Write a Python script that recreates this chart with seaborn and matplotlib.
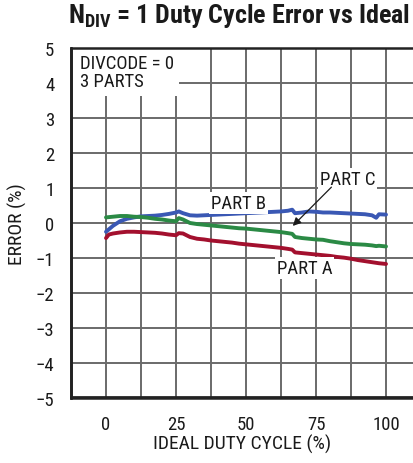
import matplotlib
matplotlib.use("Agg")
import matplotlib.pyplot as plt
from matplotlib.patches import Rectangle
from matplotlib.lines import Line2D
import seaborn as sns
import pandas as pd
from matplotlib import font_manager

# ---- data ----
x_b = [0, 2.5, 5, 7.5, 10, 12.5, 15, 17.5, 20, 22.5, 25, 26, 27.5, 30, 32.5, 35, 37.5, 40, 42.5, 45,
       47.5, 50, 52.5, 55, 57.5, 60, 62.5, 65, 66.5, 67.5, 70, 72.5, 75, 77.5, 80, 82.5, 85, 87.5,
       90, 92.5, 95, 96.5, 97.5, 100]
part_b = [-0.25, -0.08, 0.05, 0.12, 0.16, 0.19, 0.20, 0.21, 0.23, 0.26, 0.30, 0.33, 0.28, 0.22,
          0.21, 0.22, 0.23, 0.24, 0.25, 0.26, 0.27, 0.28, 0.29, 0.30, 0.31, 0.32, 0.33, 0.35, 0.38,
          0.28, 0.30, 0.33, 0.32, 0.30, 0.30, 0.29, 0.28, 0.27, 0.26, 0.25, 0.22, 0.15, 0.25, 0.24]

x_c = [0, 2.5, 5, 7.5, 10, 12.5, 15, 17.5, 20, 22.5, 25, 26, 27.5, 30, 32.5, 35, 37.5, 40, 42.5, 45,
       47.5, 50, 52.5, 55, 57.5, 60, 62.5, 65, 66.5, 67.5, 70, 72.5, 75, 77.5, 80, 82.5, 85, 87.5,
       90, 92.5, 95, 96.5, 97.5, 100]
part_c = [0.16, 0.18, 0.20, 0.20, 0.18, 0.17, 0.15, 0.12, 0.10, 0.07, 0.05, 0.14, 0.10, 0.00,
          -0.03, -0.05, -0.07, -0.09, -0.11, -0.13, -0.15, -0.16, -0.18, -0.20, -0.22, -0.24,
          -0.26, -0.29, -0.31, -0.40, -0.43, -0.45, -0.47, -0.48, -0.52, -0.55, -0.58, -0.60,
          -0.61, -0.62, -0.64, -0.66, -0.65, -0.67]

x_a = [0, 1, 2.5, 5, 7.5, 10, 12.5, 15, 17.5, 20, 22.5, 25, 26, 27.5, 30, 32.5, 35, 37.5, 40, 42.5,
       45, 47.5, 50, 52.5, 55, 57.5, 60, 62.5, 65, 66.5, 67.5, 70, 72.5, 75, 77.5, 80, 82.5, 85,
       87.5, 90, 92.5, 95, 97.5, 100]
part_a = [-0.43, -0.33, -0.30, -0.27, -0.25, -0.25, -0.26, -0.27, -0.28, -0.30, -0.33, -0.35,
          -0.29, -0.30, -0.40, -0.45, -0.47, -0.50, -0.52, -0.54, -0.56, -0.59, -0.61, -0.63,
          -0.65, -0.67, -0.69, -0.71, -0.74, -0.76, -0.84, -0.86, -0.88, -0.90, -0.92, -0.94,
          -0.97, -0.99, -1.02, -1.06, -1.09, -1.12, -1.15, -1.17]

x_grid = [0, 12.5, 25, 37.5, 50, 62.5, 75, 87.5, 100]
x_labels = ["0", "", "25", "", "50", "", "75", "", "100"]
y_ticks = [-5, -4, -3, -2, -1, 0, 1, 2, 3, 4, 5]
y_labels = ["\u22125", "\u22124", "\u22123", "\u22122", "\u22121", "0", "1", "2", "3", "4", "5"]

# ---- style ----
sns.set_theme(style="white")
names = {f.name for f in font_manager.fontManager.ttflist}
cands = ["Liberation Sans Narrow", "Roboto Condensed", "Archivo Narrow", "PT Sans Narrow",
         "Fira Sans Condensed", "IBM Plex Sans Condensed", "Encode Sans Condensed",
         "Open Sans Condensed", "Pragati Narrow", "DejaVu Sans"]
fam = next(c for c in cands if c in names or c == "DejaVu Sans")
plt.rcParams["font.family"] = [fam, "DejaVu Sans"]
if fam == "DejaVu Sans":
    plt.rcParams["font.stretch"] = "condensed"
plt.rcParams["mathtext.fontset"] = "custom"
plt.rcParams["mathtext.rm"] = fam
plt.rcParams["mathtext.bf"] = fam + ":bold"

fig = plt.figure(figsize=(4.14, 4.64), dpi=100)
L, B, T = 71 / 414, 1 - 399 / 464, 1 - 49 / 464
ax = fig.add_axes([L, B, 1 - L, T - B])

colors = {"A": "#a3102e", "B": "#3a58b4", "C": "#2b8a45"}
for xs, ys, key in [(x_b, part_b, "B"), (x_c, part_c, "C"), (x_a, part_a, "A")]:
    df = pd.DataFrame({"x": xs, "y": ys})
    sns.lineplot(data=df, x="x", y="y", ax=ax, color=colors[key], lw=2.8,
                 estimator=None, sort=False, zorder=3)

ax.set_xlim(-12.5, 110)
ax.set_ylim(-5, 5)
ax.set_xticks(x_grid)
ax.set_xticklabels(x_labels)
ax.set_yticks(y_ticks)
ax.set_yticklabels(y_labels)
ax.grid(True, which="major", color="#6a6a6a", lw=1.4)
ax.set_axisbelow(True)
ax.tick_params(axis="x", length=0, labelsize=13.5, colors="#1a1a1a", pad=12)
ax.tick_params(axis="y", length=0, labelsize=13.5, colors="#1a1a1a", pad=12)
ax.set_xlabel("IDEAL DUTY CYCLE (%)", fontsize=14, color="#1a1a1a", labelpad=1)
ax.set_ylabel("ERROR (%)", fontsize=14, color="#1a1a1a", labelpad=6)
for s in ["left", "bottom", "top"]:
    ax.spines[s].set_visible(True)
    ax.spines[s].set_color("#222222")
    ax.spines[s].set_linewidth(1.8)
    ax.spines[s].set_zorder(10)
ax.spines["right"].set_visible(False)
# explicit frame lines on the left and bottom (figure level, drawn last)
fig.add_artist(Line2D([L, L], [B, T], transform=fig.transFigure, color="#222222", lw=2.0, zorder=20))
fig.add_artist(Line2D([L, 1], [B + 0.6 / 464, B + 0.6 / 464], transform=fig.transFigure,
                      color="#222222", lw=2.0, zorder=20))

# white panel behind the top-left note
ax.add_patch(Rectangle((-12.3, 3.64), 38.5, 1.34, facecolor="white", edgecolor="none", zorder=4))
ax.text(-9.2, 4.84, "DIVCODE = 0\n3 PARTS", fontsize=13.5, va="top", ha="left", linespacing=1.05,
        color="#1a1a1a", zorder=6)

tb = dict(facecolor="white", edgecolor="none", pad=1.5)
ax.text(47.4, 0.57, "PART B", fontsize=13.5, ha="center", va="center", color="#1a1a1a", zorder=6, bbox=tb)
ax.text(86.2, 1.26, "PART C", fontsize=13.5, ha="center", va="center", color="#1a1a1a", zorder=6, bbox=tb)
ax.text(70.9, -1.29, "PART A", fontsize=13.5, ha="center", va="center", color="#1a1a1a", zorder=6, bbox=tb)
ax.annotate("", xy=(66.0, -0.14), xytext=(81.2, 1.08),
            arrowprops=dict(arrowstyle="-|>", color="#1a1a1a", lw=0.9, mutation_scale=12),
            zorder=7)

fig.text(68 / 414, 1 - 2 / 464, r"N$_{\mathbf{DIV}}$ = 1 Duty Cycle Error vs Ideal",
         fontsize=18.7, fontweight="bold", ha="left", va="top", color="#1a1a1a")

fig.savefig("out.png", dpi=100)
